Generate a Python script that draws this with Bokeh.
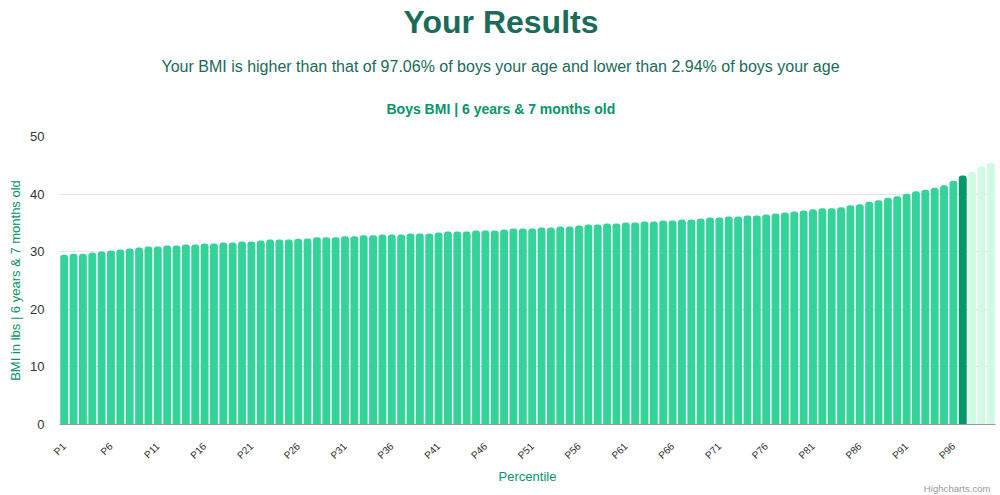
import math
from bokeh.plotting import figure
from bokeh.models import ColumnDataSource, FixedTicker, Range1d, Title
from bokeh.embed import file_html
from bokeh.resources import INLINE

# ---- data ----
percentiles = list(range(1, 101))
bmi_values = [
    29.46, 29.64, 29.64, 29.87, 30.04, 30.21, 30.39, 30.56, 30.73, 30.91,
    30.91, 31.08, 31.08, 31.25, 31.25, 31.42, 31.42, 31.60, 31.60, 31.77,
    31.77, 31.94, 32.12, 32.12, 32.12, 32.23, 32.29, 32.52, 32.52, 32.52,
    32.69, 32.69, 32.87, 32.87, 32.98, 32.98, 32.98, 33.15, 33.15, 33.15,
    33.33, 33.50, 33.50, 33.50, 33.67, 33.67, 33.67, 33.85, 34.02, 34.02,
    34.02, 34.19, 34.19, 34.37, 34.37, 34.54, 34.71, 34.71, 34.88, 34.88,
    35.06, 35.06, 35.23, 35.23, 35.40, 35.40, 35.58, 35.58, 35.75, 35.92,
    35.92, 36.10, 36.10, 36.27, 36.27, 36.44, 36.62, 36.79, 36.96, 37.14,
    37.36, 37.54, 37.54, 37.71, 38.06, 38.23, 38.69, 38.92, 39.38, 39.61,
    40.07, 40.48, 40.77, 41.11, 41.52, 42.32, 43.25, 43.88, 44.75, 45.38,
]
user_percentile = 97
tick_positions = [1, 6, 11, 16, 21, 26, 31, 36, 41, 46, 51, 56, 61, 66, 71, 76, 81, 86, 91, 96]
tick_labels = ["P1", "P6", "P11", "P16", "P21", "P26", "P31", "P36", "P41", "P46",
               "P51", "P56", "P61", "P66", "P71", "P76", "P81", "P86", "P91", "P96"]
y_ticks = [0, 10, 20, 30, 40, 50]

title_text = "Your Results"
subtitle_text = "Your BMI is higher than that of 97.06% of boys your age and lower than 2.94% of boys your age"
chart_title = "Boys BMI | 6 years & 7 months old"
y_title = "BMI in lbs | 6 years & 7 months old"
x_title = "Percentile"
credit_text = "Highcharts.com"

# ---- styles ----
MAIN = "#34d399"
DARK = "#059669"
LIGHT = "#d1fae5"
HEAD = "#1a6b5a"
FONT = "Liberation Sans"

colors = [MAIN if p < user_percentile else (DARK if p == user_percentile else LIGHT)
          for p in percentiles]

src = ColumnDataSource(dict(x=percentiles, top=bmi_values, color=colors))

p = figure(width=1000, height=495, output_backend="svg", toolbar_location=None,
           x_range=Range1d(0.5, 100.5), y_range=Range1d(0, 50),
           min_border_left=59, min_border_right=5, min_border_top=136,
           min_border_bottom=71, tools="")
p.outline_line_color = None
p.background_fill_color = "white"
p.border_fill_color = "white"

p.vbar(x="x", top="top", bottom=0, width=0.84, color="color", line_color=None,
       source=src, border_radius=(3, 3, 0, 0))

# titles: first added is closest to the plot, p.title is outermost
p.title.text = title_text
p.title.align = "left"
p.title.offset = 344
p.title.text_font = FONT
p.title.text_font_size = "32px"
p.title.text_font_style = "bold"
p.title.text_color = HEAD
p.title.standoff = 0
p.add_layout(Title(text=" ", text_font=FONT, text_font_size="8px",
                   text_color="white", standoff=0), "above")
p.add_layout(Title(text=chart_title, align="left", offset=327, text_font=FONT,
                   text_font_size="14px", text_font_style="bold",
                   text_color=DARK, standoff=17), "above")
p.add_layout(Title(text=subtitle_text, align="left", offset=102, text_font=FONT,
                   text_font_size="16px", text_font_style="normal",
                   text_color=HEAD, standoff=32), "above")

# x axis
xa = p.xaxis[0]
xa.ticker = FixedTicker(ticks=tick_positions)
xa.major_label_overrides = {t: l for t, l in zip(tick_positions, tick_labels)}
xa.major_label_orientation = math.pi / 4
xa.major_label_text_font = FONT
xa.major_label_text_font_size = "10px"
xa.major_label_text_color = "#333333"
xa.axis_line_color = "#999999"
xa.axis_line_width = 1
xa.major_tick_line_color = None
xa.minor_tick_line_color = None
xa.major_tick_out = 0
xa.major_label_standoff = 20
xa.axis_label = x_title
xa.axis_label_text_font = FONT
xa.axis_label_text_font_size = "13px"
xa.axis_label_text_font_style = "normal"
xa.axis_label_text_color = DARK
xa.axis_label_standoff = 1

# credit below the axis, then a spacer
p.add_layout(Title(text=credit_text, align="right", offset=5, text_font=FONT,
                   text_font_size="9.6px", text_font_style="normal",
                   text_color="#999999", standoff=-14), "below")
p.add_layout(Title(text=" ", text_font=FONT, text_font_size="5.5px",
                   text_color="white", standoff=0), "below")

# y axis
ya = p.yaxis[0]
ya.ticker = FixedTicker(ticks=y_ticks)
ya.major_label_text_font = FONT
ya.major_label_text_font_size = "13px"
ya.major_label_text_color = "#333333"
ya.axis_line_color = None
ya.major_tick_line_color = None
ya.minor_tick_line_color = None
ya.major_tick_out = 0
ya.major_label_standoff = 15
ya.axis_label = y_title
ya.axis_label_text_font = FONT
ya.axis_label_text_font_size = "13px"
ya.axis_label_text_font_style = "normal"
ya.axis_label_text_color = DARK
ya.axis_label_standoff = 4

p.xgrid.grid_line_color = None
p.ygrid.grid_line_color = "#e6e6e6"
p.ygrid.ticker = FixedTicker(ticks=y_ticks)

open("out.html", "w").write(file_html(p, INLINE))
